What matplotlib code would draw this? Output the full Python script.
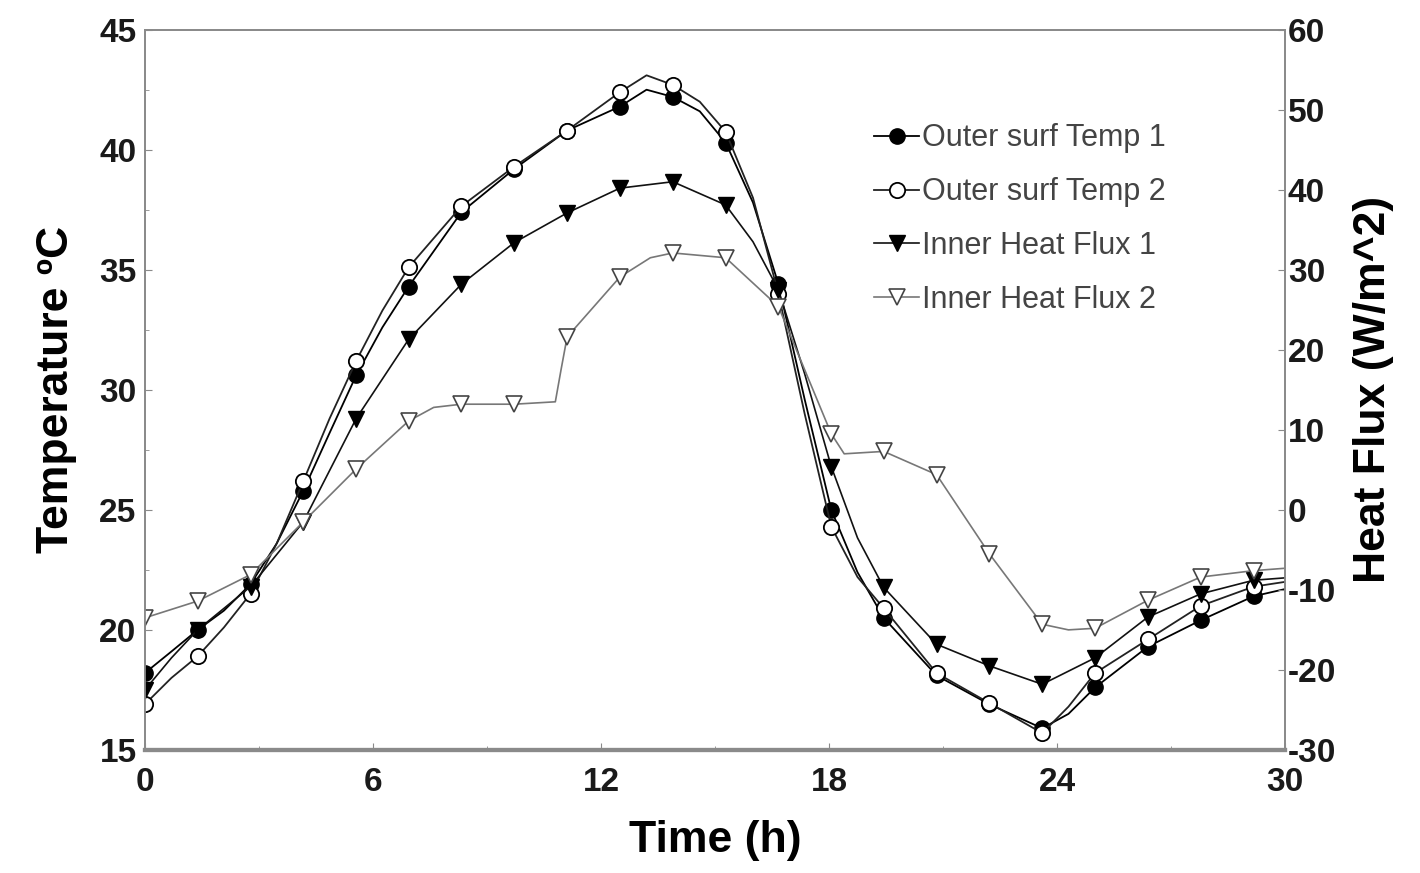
import numpy as np
import matplotlib.pyplot as plt
from matplotlib.ticker import MultipleLocator

plt.rcParams['font.family'] = ['Liberation Sans', 'DejaVu Sans']
plt.rcParams['axes.unicode_minus'] = False

# times where the markers sit (h)
t_mark = [0, 1.39, 2.78, 4.17, 5.56, 6.94, 8.33, 9.72, 11.11, 12.5, 13.89,
          15.28, 16.67, 18.06, 19.44, 20.83, 22.22, 23.61, 25.0, 26.39, 27.78, 29.17]

# Outer surf Temp 1 (degC)
t_T1 = [0, 0.7, 1.39, 2.08, 2.78, 3.47, 4.17, 4.86, 5.56, 6.25, 6.94, 8.33, 9.72,
        11.11, 12.5, 13.2, 13.89, 14.6, 15.28, 16.0, 16.67, 17.36, 18.06, 18.75,
        19.44, 20.83, 22.22, 23.61, 24.3, 25.0, 26.39, 27.78, 29.17, 30]
T1 = [18.2, 19.1, 20.0, 20.8, 21.9, 23.6, 25.8, 28.2, 30.6, 32.6, 34.3, 37.4, 39.2,
      40.8, 41.8, 42.5, 42.2, 41.6, 40.3, 37.8, 34.4, 29.6, 25.0, 22.4,
      20.5, 18.1, 16.9, 15.9, 16.5, 17.6, 19.3, 20.4, 21.4, 21.7]

# Outer surf Temp 2 (degC)
t_T2 = t_T1
T2 = [16.9, 18.0, 18.9, 20.1, 21.5, 23.6, 26.2, 28.8, 31.2, 33.3, 35.1, 37.65, 39.3,
      40.8, 42.4, 43.1, 42.7, 42.0, 40.75, 38.0, 34.0, 29.0, 24.3, 22.2,
      20.9, 18.2, 16.95, 15.7, 16.8, 18.2, 19.6, 21.0, 21.8, 22.0]

# Inner Heat Flux 1 (W/m^2)
t_F1 = [0, 0.7, 1.39, 2.78, 4.17, 5.56, 6.94, 8.33, 9.72, 11.11, 12.5, 13.89, 15.28,
        16.0, 16.67, 17.36, 18.06, 18.75, 19.44, 20.83, 22.22, 23.61, 25.0, 26.39,
        27.78, 29.17, 30]
F1 = [-22.5, -18.5, -15.0, -9.6, -1.5, 11.4, 21.3, 28.2, 33.4, 37.1, 40.2, 41.0, 38.1,
      33.5, 27.5, 17.0, 5.4, -3.5, -9.7, -16.8, -19.5, -21.8, -18.5, -13.4,
      -10.5, -8.8, -8.5]

# Inner Heat Flux 2 (W/m^2)
t_F2 = [0, 1.39, 2.78, 4.17, 5.56, 6.94, 7.6, 8.33, 9.72, 10.8, 10.95, 11.11, 12.5,
        13.3, 13.89, 15.28, 16.67, 18.06, 18.4, 19.44, 20.83, 22.22, 23.61, 24.3,
        25.0, 26.39, 27.78, 29.17, 30]
F2 = [-13.5, -11.4, -8.1, -1.5, 5.1, 11.1, 12.8, 13.2, 13.2, 13.5, 17.5, 21.6, 29.1,
      31.5, 32.1, 31.5, 25.4, 9.5, 7.0, 7.3, 4.4, -5.5, -14.3, -15.0,
      -14.8, -11.3, -8.4, -7.6, -7.3]


def mark_idx(t):
    return [i for i, v in enumerate(t) if any(abs(v - m) < 1e-6 for m in t_mark)]


fig = plt.figure(figsize=(14.2, 8.73), dpi=100)
ax = fig.add_axes([0.102, 0.141, 0.803, 0.825])
ax2 = ax.twinx()

ms = 11
l1, = ax.plot(t_T1, T1, '-', color='black', lw=1.3, marker='o', ms=ms,
              mfc='black', mec='black', markevery=mark_idx(t_T1),
              label='Outer surf Temp 1', zorder=4)
l2, = ax.plot(t_T2, T2, '-', color='#222222', lw=1.3, marker='o', ms=ms,
              mfc='white', mec='black', mew=1.3, markevery=mark_idx(t_T2),
              label='Outer surf Temp 2', zorder=4)
l3, = ax2.plot(t_F1, F1, '-', color='#111111', lw=1.2, marker='v', ms=ms + 1,
               mfc='black', mec='black', markevery=mark_idx(t_F1),
               label='Inner Heat Flux 1')
l4, = ax2.plot(t_F2, F2, '-', color='#777777', lw=1.2, marker='v', ms=ms + 1,
               mfc='white', mec='#444444', mew=1.2, markevery=mark_idx(t_F2),
               label='Inner Heat Flux 2')

ax.set_xlim(0, 30)
ax.set_ylim(15, 45)
ax2.set_ylim(-30, 60)
ax.set_xticks(np.arange(0, 31, 6))
ax.xaxis.set_minor_locator(MultipleLocator(3))
ax.set_yticks(np.arange(15, 46, 5))
ax.yaxis.set_minor_locator(MultipleLocator(2.5))
ax2.set_yticks(np.arange(-30, 61, 10))

for a in (ax, ax2):
    for s in a.spines.values():
        s.set_color('#8a8a8a')
        s.set_linewidth(1.3)
    a.tick_params(which='both', direction='in', color='#8a8a8a', labelsize=24,
                  labelcolor='#1a1a1a')
    a.tick_params(which='major', length=5)
    a.tick_params(which='minor', length=3)
    for lab in a.get_xticklabels() + a.get_yticklabels():
        lab.set_fontweight('bold')
ax.spines['bottom'].set_linewidth(3)
ax2.spines['bottom'].set_linewidth(3)
ax.tick_params(axis='x', pad=12)
ax.tick_params(axis='y', pad=6)
ax2.tick_params(axis='y', pad=2)

ax.set_xlabel('Time (h)', fontsize=32, fontweight='bold', labelpad=16)
ax.set_ylabel('Temperature \u00baC', fontsize=32, fontweight='bold', labelpad=16)
ax2.set_ylabel('Heat Flux (W/m^2)', fontsize=32, fontweight='bold', labelpad=12)

leg = ax.legend(handles=[l1, l2, l3, l4], loc='upper left',
                bbox_to_anchor=(0.615, 0.908), frameon=False, fontsize=22,
                handlelength=1.5, handletextpad=0.1, labelspacing=0.78)
for txt in leg.get_texts():
    txt.set_color('#444444')

fig.savefig('out.png', dpi=100)
